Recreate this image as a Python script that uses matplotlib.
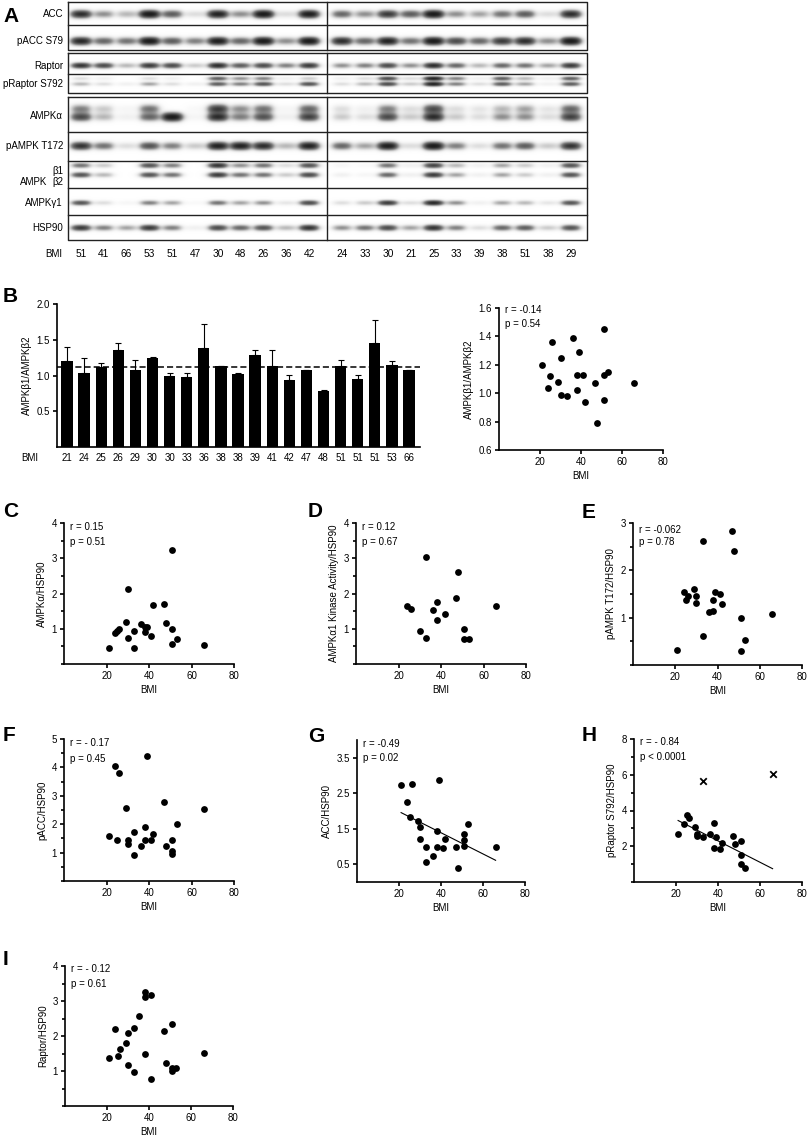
import numpy as np
import matplotlib
matplotlib.use('Agg')
import matplotlib.pyplot as plt
from matplotlib.ticker import MultipleLocator
import matplotlib.transforms as mtrans

plt.rcParams['font.family'] = ['Liberation Sans', 'DejaVu Sans']
plt.rcParams['font.size'] = 7

W, H = 809, 1141
fig = plt.figure(figsize=(W / 100, H / 100), dpi=100)


def rect(l, r, t, b):
    return [l / W, 1 - b / H, (r - l) / W, (b - t) / H]

# ---------------- Panel A data (band darkness 0-1 per lane) ----------------
lane_bmi = [51, 41, 66, 53, 51, 47, 30, 48, 26, 36, 42, 24, 33, 30, 21, 25, 33, 39, 38, 51, 38, 29]
acc = [0.8, 0.3, 0.2, 1.0, 0.5, 0.1, 0.9, 0.3, 1.0, 0.1, 0.95, 0.45, 0.3, 0.7, 0.5, 1.0, 0.3, 0.25, 0.4, 0.5, 0.1, 0.8]
pacc = [0.85, 0.45, 0.4, 1.0, 0.5, 0.35, 0.95, 0.45, 1.0, 0.3, 1.0, 0.8, 0.45, 0.9, 0.4, 1.0, 0.6, 0.45, 0.7, 0.8, 0.3, 1.0]
raptor = [0.75, 0.6, 0.2, 0.7, 0.6, 0.15, 0.8, 0.5, 0.6, 0.35, 0.7, 0.3, 0.35, 0.6, 0.3, 0.8, 0.45, 0.2, 0.45, 0.4, 0.25, 0.7]
praptor_up = [0.1, 0.05, 0.0, 0.1, 0.05, 0.0, 0.5, 0.3, 0.35, 0.05, 0.15, 0.05, 0.1, 0.6, 0.1, 0.9, 0.35, 0.05, 0.5, 0.2, 0.05, 0.5]
praptor_lo = [0.2, 0.1, 0.05, 0.25, 0.1, 0.05, 0.5, 0.35, 0.55, 0.1, 0.55, 0.1, 0.2, 0.6, 0.15, 0.9, 0.35, 0.1, 0.5, 0.25, 0.05, 0.5]
ampka_up = [0.35, 0.15, 0.03, 0.4, 0.0, 0.02, 0.7, 0.3, 0.4, 0.03, 0.45, 0.1, 0.05, 0.35, 0.1, 0.6, 0.1, 0.08, 0.2, 0.25, 0.08, 0.45]
ampka_lo = [0.6, 0.2, 0.05, 0.45, 1.0, 0.03, 0.8, 0.35, 0.55, 0.05, 0.65, 0.15, 0.1, 0.6, 0.15, 0.8, 0.15, 0.1, 0.3, 0.3, 0.1, 0.65]
pampk = [0.75, 0.4, 0.1, 0.55, 0.35, 0.15, 0.9, 0.9, 0.8, 0.2, 0.9, 0.45, 0.25, 0.95, 0.1, 1.0, 0.35, 0.1, 0.4, 0.5, 0.15, 0.75]
ampkb1 = [0.4, 0.15, 0.0, 0.55, 0.35, 0.0, 0.75, 0.3, 0.4, 0.1, 0.55, 0.03, 0.02, 0.4, 0.05, 0.65, 0.2, 0.05, 0.25, 0.15, 0.05, 0.55]
ampkb2 = [0.55, 0.2, 0.0, 0.55, 0.4, 0.0, 0.7, 0.4, 0.4, 0.15, 0.6, 0.05, 0.03, 0.45, 0.05, 0.7, 0.25, 0.05, 0.25, 0.15, 0.05, 0.55]
ampkg1 = [0.55, 0.1, 0.03, 0.35, 0.25, 0.02, 0.4, 0.25, 0.3, 0.08, 0.6, 0.1, 0.15, 0.7, 0.1, 0.85, 0.3, 0.05, 0.25, 0.2, 0.08, 0.55]
hsp90 = [0.7, 0.35, 0.25, 0.7, 0.35, 0.05, 0.6, 0.45, 0.55, 0.2, 0.75, 0.3, 0.4, 0.6, 0.25, 0.75, 0.35, 0.1, 0.45, 0.5, 0.15, 0.55]

# ---------------- Panel B data ----------------
bar_bmi = [21, 24, 25, 26, 29, 30, 30, 33, 36, 38, 38, 39, 41, 42, 47, 48, 51, 51, 51, 53, 66]
bar_val = [1.20, 1.04, 1.12, 1.36, 1.08, 1.25, 0.99, 0.98, 1.39, 1.13, 1.02, 1.29, 1.13, 0.94, 1.07, 0.79, 1.13, 0.95, 1.45, 1.15, 1.07]
bar_err = [0.20, 0.21, 0.06, 0.10, 0.13, 0.01, 0.04, 0.05, 0.33, 0.0, 0.02, 0.06, 0.22, 0.07, 0.0, 0.01, 0.08, 0.06, 0.33, 0.05, 0.0]

# ---------------- Panels C-I data ----------------
c_bmi = [51, 30, 42, 47, 29, 36, 38, 39, 48, 26, 51, 21, 24, 25, 30, 33, 33, 38, 41, 51, 53, 66]
c_val = [3.23, 2.13, 1.68, 1.70, 1.19, 1.13, 1.05, 1.05, 1.17, 0.99, 0.99, 0.45, 0.88, 0.93, 0.75, 0.45, 0.95, 0.90, 0.80, 0.58, 0.72, 0.55]

d_bmi = [24, 26, 30, 33, 33, 36, 38, 38, 42, 47, 48, 51, 51, 53, 66]
d_val = [1.64, 1.56, 0.95, 3.03, 0.74, 1.53, 1.76, 1.25, 1.41, 1.87, 2.60, 0.99, 0.70, 0.70, 1.64]

e_bmi = [21, 24, 25, 26, 29, 30, 30, 33, 33, 36, 38, 38, 39, 41, 42, 47, 48, 51, 51, 53, 66]
e_val = [0.32, 1.54, 1.38, 1.46, 1.61, 1.46, 1.30, 2.63, 0.62, 1.12, 1.38, 1.15, 1.55, 1.50, 1.29, 2.84, 2.41, 1.00, 0.30, 0.52, 1.08]

f_bmi = [24, 26, 39, 29, 47, 66, 53, 38, 42, 33, 21, 25, 30, 30, 33, 36, 38, 41, 48, 51, 51, 51]
f_val = [4.04, 3.82, 4.39, 2.57, 2.79, 2.54, 2.00, 1.90, 1.64, 1.71, 1.57, 1.46, 1.46, 1.30, 0.90, 1.25, 1.45, 1.45, 1.25, 1.45, 1.05, 0.95]

g_bmi = [21, 26, 24, 25, 39, 29, 30, 30, 38, 33, 33, 36, 38, 41, 42, 47, 48, 51, 51, 51, 53, 66]
g_val = [2.74, 2.76, 2.25, 1.84, 2.87, 1.73, 1.55, 1.20, 1.45, 0.98, 0.55, 0.73, 0.98, 0.95, 1.22, 0.98, 0.40, 1.36, 1.17, 1.02, 1.64, 0.99]

h_bmi = [21, 24, 25, 26, 29, 30, 30, 33, 36, 38, 39, 38, 41, 42, 47, 48, 51, 51, 51, 53]
h_val = [2.71, 3.24, 3.74, 3.60, 3.07, 2.71, 2.56, 2.52, 2.67, 3.31, 2.49, 1.91, 1.83, 2.20, 2.56, 2.10, 2.32, 1.50, 1.03, 0.79]
h_out_bmi = [33, 66]
h_out_val = [5.67, 6.02]

i_bmi = [21, 24, 25, 26, 29, 30, 30, 33, 33, 35, 38, 38, 41, 38, 41, 47, 48, 51, 51, 51, 53, 66]
i_val = [1.36, 2.21, 1.42, 1.63, 1.81, 2.08, 1.17, 2.24, 0.98, 2.56, 3.27, 3.12, 3.16, 1.50, 0.76, 2.14, 1.23, 2.35, 1.01, 1.10, 1.10, 1.52]

LW = 1.2

# ================= Panel A =================
axA = fig.add_axes(rect(68, 587, 2, 240))
axA.set_xlim(68, 587)
axA.set_ylim(240, 2)
axA.axis('off')

left_centers = [81 + 22.8 * i for i in range(11)]
right_centers = [342 + 22.9 * j for j in range(11)]
centers = np.array(left_centers + right_centers)

res = 3
xs = np.linspace(68, 587, (587 - 68) * res)
ys = np.linspace(2, 240, (240 - 2) * res)
dark = np.zeros((ys.size, xs.size))
band_levels = [
    (acc, 14, 2.6, 8.5), (pacc, 41, 2.6, 8.5), (raptor, 65.5, 1.9, 8),
    (praptor_up, 78.5, 1.4, 8), (praptor_lo, 84, 1.5, 8),
    (ampka_up, 109, 3.0, 8.5), (ampka_lo, 117, 2.8, 8.5),
    (pampk, 146, 2.6, 8.5), (ampkb1, 165.5, 1.8, 8), (ampkb2, 175, 1.8, 8),
    (ampkg1, 203, 1.7, 8), (hsp90, 228, 2.0, 8),
]
for vals, yc, sy, hw in band_levels:
    prof = np.zeros_like(xs)
    for c, v in zip(centers, vals):
        prof += v / (1 + np.exp((np.abs(xs - c) - hw) / 2.2))
    gy = np.exp(-0.5 * ((ys - yc) / sy) ** 2)
    dark += np.outer(gy, prof)
img = 1 - np.exp(-2.6 * dark)
axA.imshow(img, extent=(68, 587, 240, 2), cmap='Greys', vmin=0, vmax=1.02,
           aspect='auto', interpolation='bilinear', zorder=1)

for (t, b) in [(2, 50), (53, 93), (97, 240)]:
    axA.plot([68, 587, 587, 68, 68], [t, t, b, b, t], color='#222222', lw=1.0, zorder=3, clip_on=False)
    axA.plot([327, 327], [t, b], color='#222222', lw=1.0, zorder=3, clip_on=False)
for yy in [25, 74, 132, 161, 188, 215]:
    axA.plot([68, 587], [yy, yy], color='#222222', lw=1.0, zorder=3, clip_on=False)

row_labels = [("ACC", 14), ("pACC S79", 41), ("Raptor", 66), ("pRaptor S792", 84),
              ("AMPKα", 116), ("pAMPK T172", 146), ("β1", 171), ("β2", 182),
              ("AMPKγ1", 203), ("HSP90", 228)]
for txt, yy in row_labels:
    axA.text(63, yy, txt, ha='right', va='center', fontsize=7, clip_on=False)
axA.text(47, 182, "AMPK", ha='right', va='center', fontsize=7, clip_on=False)
axA.text(54, 254, "BMI", ha='center', va='center', fontsize=7, clip_on=False)
for c, b in zip(centers, lane_bmi):
    axA.text(c, 254, str(b), ha='center', va='center', fontsize=7.3, clip_on=False)


def style_axes(ax):
    for s in ['top', 'right']:
        ax.spines[s].set_visible(False)
    for s in ['left', 'bottom']:
        ax.spines[s].set_linewidth(LW)
    ax.tick_params(which='major', length=3.2, width=LW, labelsize=7, pad=2)
    ax.tick_params(which='minor', length=2.0, width=LW)


def rp_text(ax, r, p, dy1=4, dy2=19):
    for txt, dy in [(r, dy1), (p, dy2)]:
        tr = mtrans.offset_copy(ax.transAxes, fig=fig, x=6, y=-dy, units='dots')
        ax.text(0, 1, txt, transform=tr, ha='left', va='center', fontsize=7)


def scatter_panel(px, x, y, ylim, ymaj, ymin, ylabel, r, p, fit=False, fit_x=None, dy1=4, dy2=19):
    ax = fig.add_axes(rect(*px))
    ax.scatter(x, y, s=24, color='black', zorder=3, clip_on=False, linewidths=0)
    ax.set_xlim(0, 80)
    ax.set_ylim(*ylim)
    ax.set_xticks([20, 40, 60, 80])
    ax.set_yticks(ymaj)
    if ymin is not None:
        ax.yaxis.set_minor_locator(MultipleLocator(ymin))
    style_axes(ax)
    ax.set_xlabel("BMI", fontsize=7, labelpad=3)
    ax.set_ylabel(ylabel, fontsize=7, labelpad=3)
    rp_text(ax, r, p, dy1, dy2)
    if fit:
        k, b0 = np.polyfit(x, y, 1)
        xr = np.array([min(x), max(fit_x if fit_x is not None else x)])
        ax.plot(xr, k * xr + b0, color='black', lw=0.8, zorder=2)
    return ax

# ================= Panel B =================
axB = fig.add_axes(rect(57, 420, 304, 447))
pos = np.arange(len(bar_val))
axB.bar(pos, bar_val, width=0.66, color='black', zorder=2)
axB.errorbar(pos, bar_val, yerr=[np.zeros(len(bar_err)), bar_err], fmt='none',
             ecolor='black', elinewidth=0.8, capsize=2.5, capthick=0.8, zorder=1)
axB.axhline(np.mean(bar_val), color='black', lw=1.1, ls=(0, (4, 2)), zorder=3)
axB.set_xlim(-0.585, 20.64)
axB.set_ylim(0, 2.0)
axB.set_yticks([0.5, 1.0, 1.5, 2.0])
axB.set_yticklabels(["0.5", "1.0", "1.5", "2.0"])
axB.set_xticks(pos)
axB.set_xticklabels([str(b) for b in bar_bmi])
style_axes(axB)
axB.tick_params(axis='x', length=0, pad=4)
axB.set_ylabel("AMPKβ1/AMPKβ2", fontsize=7, labelpad=3)
fig.text(30 / W, 1 - 458 / H, "BMI", ha='center', va='center', fontsize=7)

axBs = scatter_panel((499, 663, 308, 450), bar_bmi, bar_val, (0.6, 1.6),
                     [0.6, 0.8, 1.0, 1.2, 1.4, 1.6], None, "AMPKβ1/AMPKβ2",
                     "r = -0.14", "p = 0.54", dy1=2, dy2=16)
axBs.set_yticklabels(["0.6", "0.8", "1.0", "1.2", "1.4", "1.6"])

# ================= Panels C-I =================
scatter_panel((64, 234, 523, 664), c_bmi, c_val, (0, 4), [1, 2, 3, 4], 0.5,
              "AMPKα/HSP90", "r = 0.15", "p = 0.51")
scatter_panel((356, 526, 523, 664), d_bmi, d_val, (0, 4), [1, 2, 3, 4], 0.5,
              "AMPKα1 Kinase Activity/HSP90", "r = 0.12", "p = 0.67")
scatter_panel((633, 802, 523, 665), e_bmi, e_val, (0, 3), [1, 2, 3], 0.5,
              "pAMPK T172/HSP90", "r = -0.062", "p = 0.78", dy1=7, dy2=19)
scatter_panel((64, 234, 739, 881), f_bmi, f_val, (0, 5), [1, 2, 3, 4, 5], 0.5,
              "pACC/HSP90", "r = - 0.17", "p = 0.45", dy1=4, dy2=20)
axG = scatter_panel((357, 525, 740, 882), g_bmi, g_val, (0, 4), [0.5, 1.5, 2.5, 3.5], None,
                    "ACC/HSP90", "r = -0.49", "p = 0.02", fit=True, dy1=4, dy2=18)
axG.set_yticklabels(["0.5", "1.5", "2.5", "3.5"])
axH = scatter_panel((634, 802, 739, 882), h_bmi, h_val, (0, 8), [2, 4, 6, 8], 1,
                    "pRaptor S792/HSP90", "r = - 0.84", "p < 0.0001", fit=True,
                    fit_x=h_bmi + h_out_bmi, dy1=3, dy2=18)
axH.scatter(h_out_bmi, h_out_val, marker='x', s=22, color='black', linewidths=1.3, zorder=3)
scatter_panel((65, 233, 966, 1106), i_bmi, i_val, (0, 4), [1, 2, 3, 4], 0.5,
              "Raptor/HSP90", "r = - 0.12", "p = 0.61", dy1=3, dy2=18)

# ================= Panel letters =================
letters = [("A", 3, 22), ("B", 3, 302), ("C", 3, 517), ("D", 308, 517), ("E", 582, 518),
           ("F", 3, 741), ("G", 308, 742), ("H", 582, 741), ("I", 3, 965)]
for t, x, y in letters:
    fig.text(x / W, 1 - y / H, t, ha='left', va='baseline', fontsize=15, fontweight='bold')

fig.savefig("out.png", dpi=100)
